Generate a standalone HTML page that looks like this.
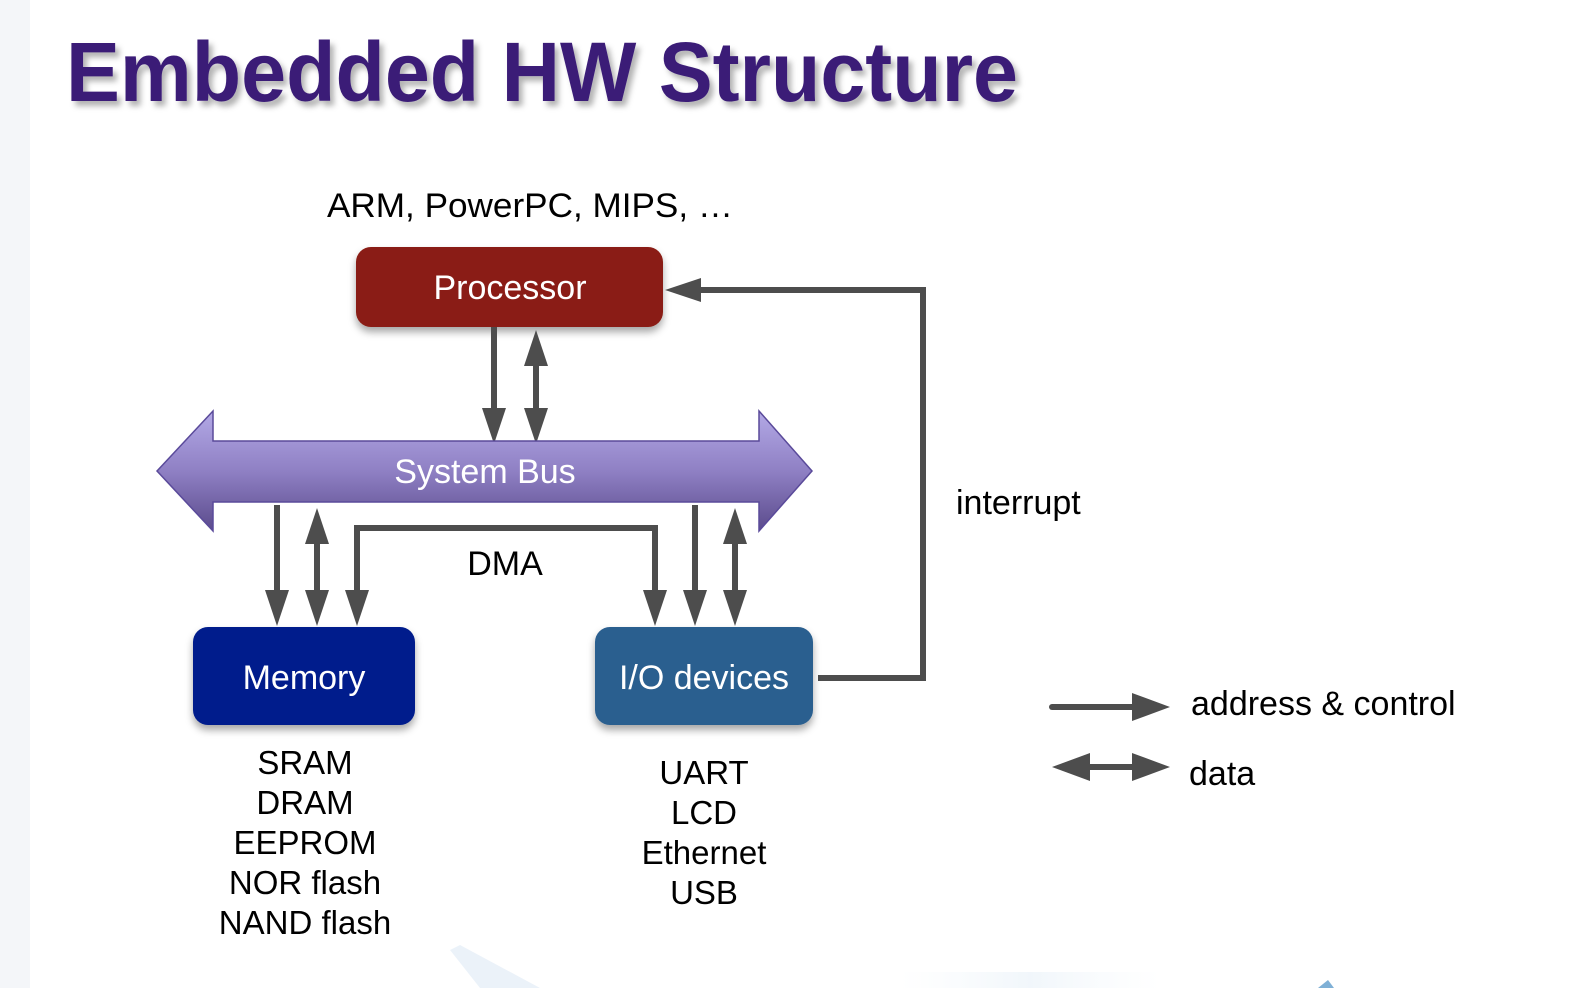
<!DOCTYPE html>
<html><head><meta charset="utf-8"><style>
html,body{margin:0;padding:0;background:#fff;}
svg{display:block;}
text{font-family:"Liberation Sans",Arial,sans-serif;}
</style></head><body>
<svg width="1574" height="988" viewBox="0 0 1574 988" xmlns="http://www.w3.org/2000/svg">
<defs>
<linearGradient id="bus" x1="0" y1="0" x2="0" y2="1">
<stop offset="0" stop-color="#b3a9e6"/><stop offset="0.5" stop-color="#8f80c4"/><stop offset="1" stop-color="#5b4b8c"/>
</linearGradient>
<filter id="sh" x="-10%" y="-10%" width="120%" height="140%"><feDropShadow dx="0" dy="5" stdDeviation="4" flood-color="#000" flood-opacity="0.35"/></filter>
<filter id="tsh" x="-5%" y="-20%" width="110%" height="150%"><feDropShadow dx="4" dy="5" stdDeviation="3" flood-color="#000" flood-opacity="0.3"/></filter>
<linearGradient id="bg" x1="0" y1="0" x2="1" y2="0"><stop offset="0" stop-color="#cfe2f2" stop-opacity="0"/><stop offset="0.5" stop-color="#b9d4ea"/><stop offset="1" stop-color="#cfe2f2" stop-opacity="0"/></linearGradient>
</defs>
<rect x="0" y="0" width="30" height="988" fill="#f4f6f9"/>
<path d="M450 950 L480 988 L540 988 L460 945 Z" fill="#c5dbee" opacity="0.35"/>
<rect x="900" y="972" width="260" height="16" fill="url(#bg)" opacity="0.2"/>
<path d="M1318 988 L1328 980 L1334 988 Z" fill="#7fb0d6"/>

<text x="66" y="101" font-size="84" font-weight="bold" fill="#3b1e77" textLength="952" lengthAdjust="spacingAndGlyphs" filter="url(#tsh)">Embedded HW Structure</text>

<text x="327" y="217" font-size="34" fill="#000" textLength="406" lengthAdjust="spacingAndGlyphs">ARM, PowerPC, MIPS, …</text>

<rect x="356" y="247" width="307" height="80" rx="15" fill="#8a1f12" filter="url(#sh)"/>
<text x="510" y="299" font-size="34" fill="#fff" text-anchor="middle">Processor</text>

<g stroke="#4d4d4d" stroke-width="6" fill="none">
<line x1="494" y1="327" x2="494" y2="410"/>
<line x1="536" y1="362" x2="536" y2="410"/>
<line x1="277" y1="505" x2="277" y2="592"/>
<line x1="317" y1="540" x2="317" y2="592"/>
<polyline points="357,592 357,528 655,528 655,592"/>
<line x1="695" y1="505" x2="695" y2="592"/>
<line x1="735" y1="540" x2="735" y2="592"/>
<polyline points="818,678 923,678 923,290 700,290"/>
<line x1="1052" y1="707" x2="1134" y2="707" stroke-linecap="round"/>
<line x1="1085" y1="767" x2="1134" y2="767"/>
</g>
<g fill="#4d4d4d">
<polygon points="482,408 506,408 494,444"/>
<polygon points="524,408 548,408 536,444"/>
<polygon points="524,366 548,366 536,330"/>
<polygon points="265,590 289,590 277,626"/>
<polygon points="305,590 329,590 317,626"/>
<polygon points="305,544 329,544 317,508"/>
<polygon points="345,590 369,590 357,626"/>
<polygon points="643,590 667,590 655,626"/>
<polygon points="683,590 707,590 695,626"/>
<polygon points="723,590 747,590 735,626"/>
<polygon points="723,544 747,544 735,508"/>
<polygon points="701,278 701,302 665,290"/>
<polygon points="1132,693 1132,721 1170,707"/>
<polygon points="1132,753 1132,781 1170,767"/>
<polygon points="1090,753 1090,781 1052,767"/>
</g>

<polygon points="157,471 213,411 213,441 759,441 759,411 812,471 759,531 759,502 213,502 213,531" fill="url(#bus)" stroke="#5a4a9a" stroke-width="1.5"/>
<text x="485" y="483" font-size="34" fill="#fff" text-anchor="middle">System Bus</text>

<text x="505" y="575" font-size="34" fill="#000" text-anchor="middle">DMA</text>
<text x="956" y="514" font-size="34" fill="#000">interrupt</text>

<rect x="193" y="627" width="222" height="98" rx="15" fill="#001e8c" filter="url(#sh)"/>
<text x="304" y="689" font-size="34" fill="#fff" text-anchor="middle">Memory</text>
<rect x="595" y="627" width="218" height="98" rx="15" fill="#2c5f8f" filter="url(#sh)"/>
<text x="704" y="689" font-size="34" fill="#fff" text-anchor="middle">I/O devices</text>

<g font-size="33" fill="#000" text-anchor="middle">
<text x="305" y="774">SRAM</text>
<text x="305" y="814">DRAM</text>
<text x="305" y="854">EEPROM</text>
<text x="305" y="894">NOR flash</text>
<text x="305" y="934">NAND flash</text>
<text x="704" y="784">UART</text>
<text x="704" y="824">LCD</text>
<text x="704" y="864">Ethernet</text>
<text x="704" y="904">USB</text>
</g>

<text x="1191" y="715" font-size="34" fill="#000">address &amp; control</text>
<text x="1189" y="785" font-size="34" fill="#000">data</text>
</svg>
</body></html>
